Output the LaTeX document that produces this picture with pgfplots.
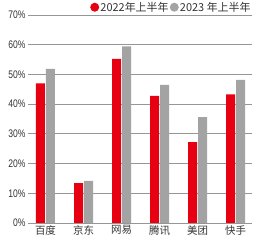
\documentclass[border=0pt]{standalone}
\usepackage{fontspec}
\setmainfont{Liberation Sans}[FakeStretch=0.78]
\newfontfamily\cjk{Noto Sans CJK SC}
\usepackage{pgfplots}
\pgfplotsset{compat=1.18}
\definecolor{barred}{HTML}{E60012}
\definecolor{bargray}{HTML}{A3A3A3}
\definecolor{gridgray}{HTML}{969696}
\definecolor{txt}{HTML}{333333}
\begin{document}
\begin{tikzpicture}
\begin{axis}[name=ax,
  width=224bp, height=208bp, scale only axis,
  ymin=0, ymax=70, xmin=-0.46, xmax=5.43,
  ybar=1bp, bar width=9bp,
  ytick={0,10,...,70},
  yticklabel={\pgfmathprintnumber[assume math mode=true]{\tick}\%},
  xtick={0,1,2,3,4,5},
  xticklabels={百度,京东,网易,腾讯,美团,快手},
  xticklabel style={font=\cjk\fontsize{10.5}{11}\selectfont, text=txt, yshift=1bp},
  yticklabel style={font=\fontsize{11}{12}\selectfont, text=txt, xshift=1bp},
  major tick length=0pt,
  axis line style={draw=none},
  ymajorgrids, grid style={gridgray, line width=0.8pt},
  legend columns=2,
  legend style={at={(1,1)}, anchor=south east, draw=none, fill=none,
    font=\cjk\fontsize{11}{12}\selectfont, text=txt, inner sep=0pt,
    nodes={inner sep=1.2pt},
    /tikz/every even column/.append style={column sep=0pt},
    yshift=1bp},
  legend image code/.code={\fill (0bp,0bp) circle (4.5bp);},
]
\addplot[fill=barred, draw=none] coordinates {(0,47.0) (1,13.4) (2,55.2) (3,42.8) (4,27.2) (5,43.3)};
\addlegendentry{2022年上半年}
\addplot[fill=bargray, draw=none] coordinates {(0,51.9) (1,14.2) (2,59.4) (3,46.5) (4,35.6) (5,48.2)};
\addlegendentry{2023 年上半年}
\end{axis}
\pgfresetboundingbox
\path ([shift={(-28bp,-17bp)}]ax.south west) rectangle ([shift={(8bp,15bp)}]ax.north east);
\end{tikzpicture}
\end{document}
